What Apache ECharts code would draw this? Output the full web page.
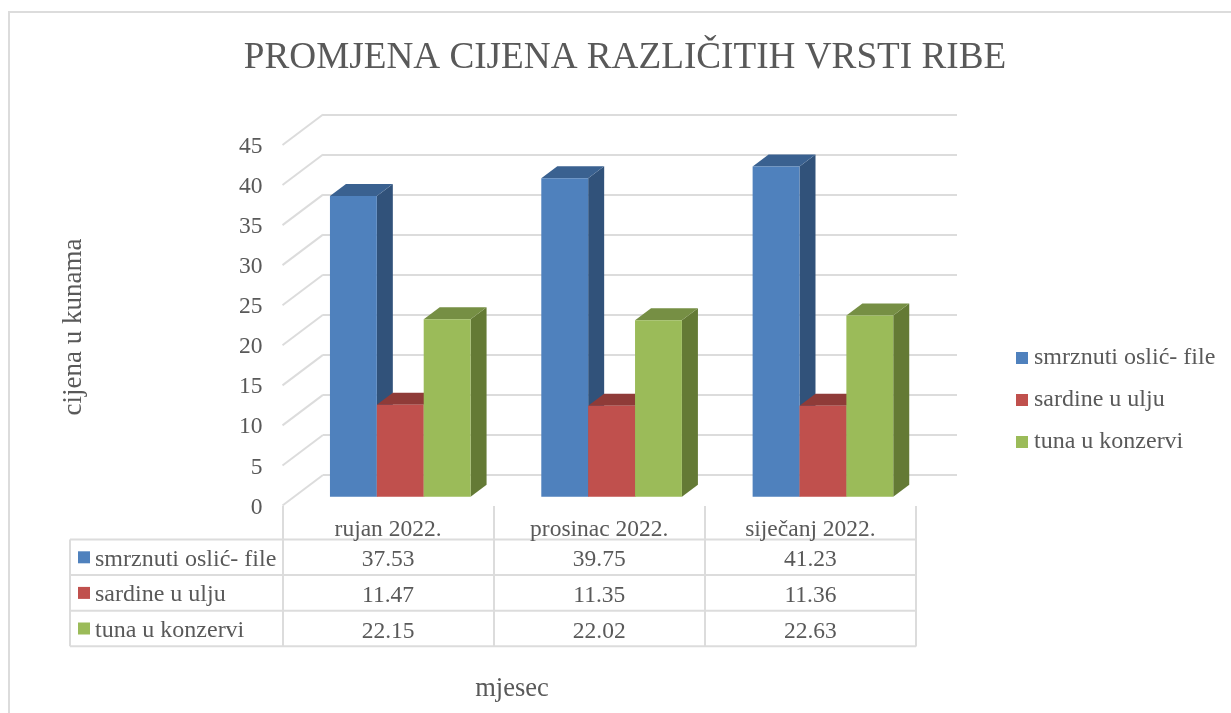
<!DOCTYPE html>
<html><head><meta charset="utf-8">
<style>html,body{margin:0;padding:0;background:#fff}#c{width:1231px;height:713px}</style>
<script src="https://cdn.jsdelivr.net/npm/echarts@6/dist/echarts.min.js"></script>
</head><body><div id="c"></div>
<script>
const titleText = 'PROMJENA CIJENA RAZLIČITIH VRSTI RIBE';
const categories = ['rujan 2022.', 'prosinac 2022.', 'siječanj 2022.'];
const seriesNames = ['smrznuti oslić- file', 'sardine u ulju', 'tuna u konzervi'];
const oslic = [37.53, 39.75, 41.23];
const sardine = [11.47, 11.35, 11.36];
const tuna = [22.15, 22.02, 22.63];
const seriesValues = [oslic, sardine, tuna];
const faceColors = ['#4F81BD', '#C0504D', '#9BBB59'];
const sideColors = ['#31527A', '#8C3A38', '#647A35'];
const topColors = ['#3A6190', '#8F3B38', '#768F44'];
const yTickValues = [0, 5, 10, 15, 20, 25, 30, 35, 40, 45];

const FONT = '"Liberation Serif","Times New Roman",serif';
const TEXT = '#595959', LINE = '#DCDCDC', LW = 2;
const BACK = {left: 323, top: 114.5, width: 634, height: 360.5};
const FRONT = {left: 282.5, top: 145, width: 633.5, height: 361};
const LABELS = {left: 282.5, top: 146.5, width: 633.5, height: 361};
const WALL_DX = BACK.left - FRONT.left, WALL_DY = FRONT.top - BACK.top;
const BAR_SHIFT_X = -28.4, BAR_SHIFT_Y = 21.7, DEPTH_X = 16, DEPTH_Y = 12;
const ROW_TOP = 539.5, ROW_H = 35.6, TABLE_LEFT = 70;

function barRender(i) {
  return function (params, api) {
    const p = api.coord([api.value(0), api.value(1)]);
    const base = api.coord([api.value(0), 0]);
    const w = api.size([1, 0])[0] * 46.8 / 211;
    const x0 = p[0] + BAR_SHIFT_X + (i - 1.5) * w;
    const x1 = x0 + w;
    const yt = p[1] + BAR_SHIFT_Y, yb = base[1] + BAR_SHIFT_Y;
    return {type: 'group', children: [
      {type: 'polygon', shape: {points: [[x1, yt], [x1 + DEPTH_X, yt - DEPTH_Y], [x1 + DEPTH_X, yb - DEPTH_Y], [x1, yb]]}, style: {fill: sideColors[i]}},
      {type: 'polygon', shape: {points: [[x0, yt], [x0 + DEPTH_X, yt - DEPTH_Y], [x1 + DEPTH_X, yt - DEPTH_Y], [x1, yt]]}, style: {fill: topColors[i]}},
      {type: 'rect', shape: {x: x0, y: yt, width: w, height: yb - yt}, style: {fill: faceColors[i]}}
    ]};
  };
}
function wallRender(params, api) {
  const p = api.coord([0, api.value(0)]);
  const x = params.coordSys.x;
  return {type: 'line', shape: {x1: x, y1: p[1], x2: x - WALL_DX, y2: p[1] + WALL_DY}, style: {stroke: LINE, lineWidth: LW}, silent: true};
}
function cellRender(params, api) {
  const p = api.coord([api.value(0), 0]);
  const r = api.value(1);
  return {type: 'text', style: {text: api.value(2).toFixed(2), x: p[0], y: ROW_TOP + (r + 0.5) * ROW_H + 3, align: 'center', verticalAlign: 'middle', font: '23.5px ' + FONT, fill: TEXT}, silent: true};
}
const cellData = [];
seriesValues.forEach((vals, r) => vals.forEach((v, c) => cellData.push([c, r, v])));

const gfx = [
  {type: 'rect', shape: {x: 9, y: 12, width: 1240, height: 720}, style: {fill: 'none', stroke: LINE, lineWidth: LW}, silent: true, z: 0},
  {type: 'text', style: {text: 'mjesec', x: 512, y: 689, align: 'center', verticalAlign: 'middle', font: '26.5px ' + FONT, fill: TEXT}},
  {type: 'line', shape: {x1: TABLE_LEFT, y1: ROW_TOP, x2: TABLE_LEFT, y2: ROW_TOP + 3 * ROW_H}, style: {stroke: LINE, lineWidth: LW}}
];
for (let r = 0; r <= 3; r++) {
  gfx.push({type: 'line', shape: {x1: TABLE_LEFT, y1: ROW_TOP + r * ROW_H, x2: FRONT.left + FRONT.width, y2: ROW_TOP + r * ROW_H}, style: {stroke: LINE, lineWidth: LW}});
}
seriesNames.forEach((n, r) => {
  const yc = ROW_TOP + (r + 0.5) * ROW_H;
  gfx.push({type: 'rect', shape: {x: 78, y: yc - 6, width: 12, height: 12}, style: {fill: faceColors[r]}});
  gfx.push({type: 'text', style: {text: n, x: 95, y: yc + 2, align: 'left', verticalAlign: 'middle', font: '24px ' + FONT, fill: TEXT}});
});

const option = {
  animation: false,
  textStyle: {fontFamily: FONT},
  title: {text: titleText, left: 620, top: 35, textAlign: 'center', textStyle: {fontFamily: FONT, fontSize: 37.2, fontWeight: 'normal', color: TEXT}},
  legend: {
    orient: 'vertical', left: 1016, top: 346, itemWidth: 12, itemHeight: 12, itemGap: 18, padding: 0,
    data: seriesNames.map((n, i) => ({name: n, icon: 'rect', itemStyle: {color: faceColors[i]}})),
    textStyle: {fontFamily: FONT, fontSize: 24, color: TEXT, padding: [2, 0, 0, 1]}
  },
  grid: [
    Object.assign({containLabel: false}, BACK),
    Object.assign({containLabel: false}, FRONT),
    Object.assign({containLabel: false}, LABELS)
  ],
  xAxis: [
    {gridIndex: 0, type: 'category', data: categories, axisLine: {show: false}, axisTick: {show: false}, axisLabel: {show: false}},
    {gridIndex: 1, type: 'category', data: categories, axisLine: {show: false},
      axisTick: {show: true, inside: false, length: 140.5, lineStyle: {color: LINE, width: LW}},
      axisLabel: {margin: 12, fontFamily: FONT, fontSize: 23.5, color: TEXT}},
    {gridIndex: 2, type: 'category', data: categories, show: false}
  ],
  yAxis: [
    {gridIndex: 0, type: 'value', min: 0, max: 45, interval: 5, axisLine: {show: false}, axisTick: {show: false}, axisLabel: {show: false},
      splitLine: {show: true, lineStyle: {color: LINE, width: LW}}},
    {gridIndex: 1, type: 'value', min: 0, max: 45, interval: 5, show: false, splitLine: {show: false}},
    {gridIndex: 2, type: 'value', min: 0, max: 45, interval: 5, axisLine: {show: false}, axisTick: {show: false}, splitLine: {show: false},
      axisLabel: {margin: 20, fontFamily: FONT, fontSize: 23.5, color: TEXT},
      name: 'cijena u kunama', nameLocation: 'middle', nameGap: 195, nameRotate: 90,
      nameTextStyle: {fontFamily: FONT, fontSize: 27, color: TEXT}}
  ],
  graphic: gfx,
  series: [
    {type: 'custom', name: 'walls', xAxisIndex: 0, yAxisIndex: 0, silent: true, z: 1, data: yTickValues.map(v => [v]), renderItem: wallRender, encode: {y: 0}},
    ...seriesNames.map((n, i) => ({
      type: 'custom', name: n, xAxisIndex: 0, yAxisIndex: 0, z: 3 + i,
      itemStyle: {color: faceColors[i]},
      data: seriesValues[i].map((v, c) => [c, v]),
      encode: {x: 0, y: 1}, renderItem: barRender(i)
    })),
    {type: 'custom', name: 'table', xAxisIndex: 1, yAxisIndex: 1, silent: true, z: 6, data: cellData, renderItem: cellRender, encode: {x: 0}}
  ]
};
const chart = echarts.init(document.getElementById('c'), null, {renderer: 'canvas'});
chart.setOption(option);
</script></body></html>
